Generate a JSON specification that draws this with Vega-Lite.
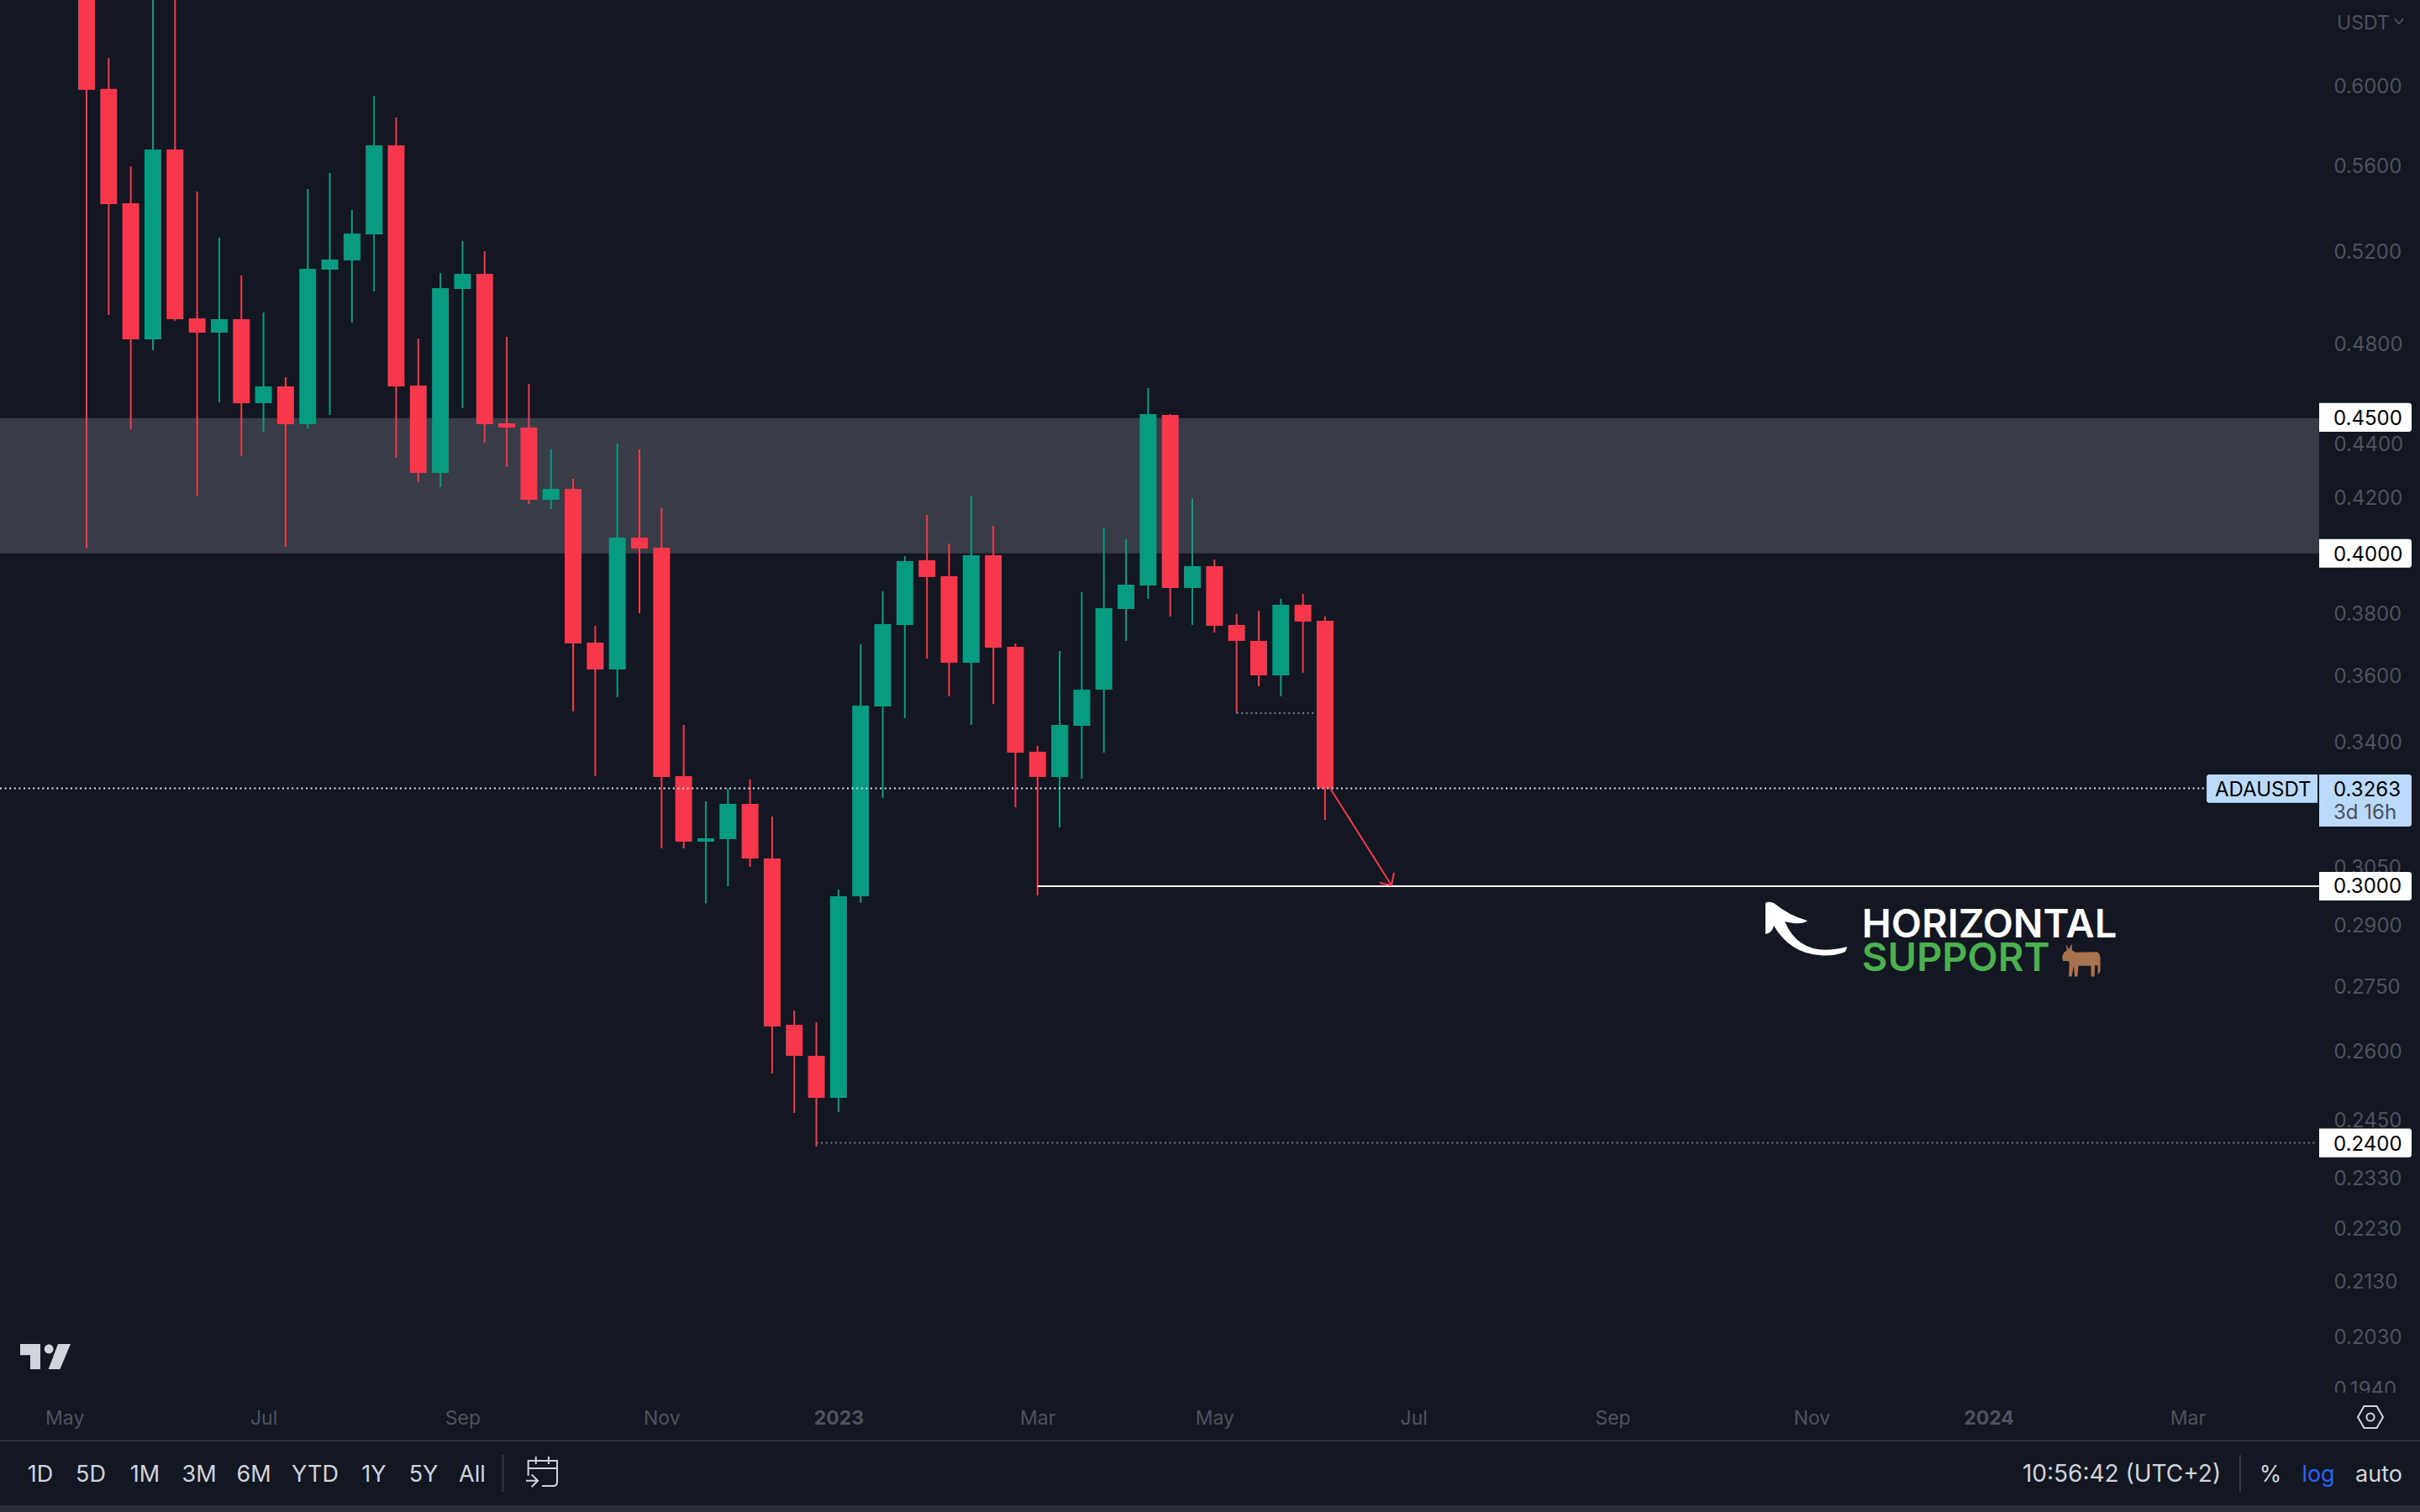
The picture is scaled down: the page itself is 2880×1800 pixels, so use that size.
{
  "$schema": "https://vega.github.io/schema/vega-lite/v6.json",
  "description": "ADAUSDT weekly candles with horizontal support levels",
  "width": 2880,
  "height": 1800,
  "padding": 0,
  "autosize": "none",
  "background": "#131722",
  "config": {"view": {"stroke": null}, "text": {"font": "Inter"}},
  "datasets": {
    "candles": [
      {"at": "2022-05-09", "side": "down", "open": 0.68, "high": 0.72, "low": 0.40176, "close": 0.59764},
      {"at": "2022-05-16", "side": "down", "open": 0.59817, "high": 0.61441, "low": 0.49175, "close": 0.54137},
      {"at": "2022-05-23", "side": "down", "open": 0.54172, "high": 0.55935, "low": 0.44541, "close": 0.48147},
      {"at": "2022-05-30", "side": "up", "open": 0.48147, "high": 0.7, "low": 0.47694, "close": 0.56756},
      {"at": "2022-06-06", "side": "down", "open": 0.56756, "high": 0.72, "low": 0.48925, "close": 0.48996},
      {"at": "2022-06-13", "side": "down", "open": 0.49032, "high": 0.54727, "low": 0.42052, "close": 0.48429},
      {"at": "2022-06-20", "side": "up", "open": 0.48429, "high": 0.5258, "low": 0.4559, "close": 0.48996},
      {"at": "2022-06-27", "side": "down", "open": 0.48996, "high": 0.50886, "low": 0.43516, "close": 0.45558},
      {"at": "2022-07-04", "side": "up", "open": 0.45558, "high": 0.49282, "low": 0.44444, "close": 0.46225},
      {"at": "2022-07-11", "side": "down", "open": 0.46225, "high": 0.46596, "low": 0.40226, "close": 0.44736},
      {"at": "2022-07-18", "side": "up", "open": 0.44736, "high": 0.54847, "low": 0.44574, "close": 0.51183},
      {"at": "2022-07-25", "side": "up", "open": 0.51147, "high": 0.5561, "low": 0.45096, "close": 0.51594},
      {"at": "2022-08-01", "side": "up", "open": 0.51557, "high": 0.53857, "low": 0.48854, "close": 0.52772},
      {"at": "2022-08-08", "side": "up", "open": 0.52733, "high": 0.59461, "low": 0.50186, "close": 0.56963},
      {"at": "2022-08-15", "side": "down", "open": 0.56963, "high": 0.58346, "low": 0.43452, "close": 0.46225},
      {"at": "2022-08-22", "side": "down", "open": 0.4626, "high": 0.48183, "low": 0.42545, "close": 0.42887},
      {"at": "2022-08-29", "side": "up", "open": 0.42887, "high": 0.50997, "low": 0.42359, "close": 0.50333},
      {"at": "2022-09-05", "side": "up", "open": 0.50296, "high": 0.52426, "low": 0.45359, "close": 0.50959},
      {"at": "2022-09-12", "side": "down", "open": 0.50959, "high": 0.51971, "low": 0.44025, "close": 0.44736},
      {"at": "2022-09-19", "side": "down", "open": 0.44768, "high": 0.48253, "low": 0.43105, "close": 0.44606},
      {"at": "2022-09-26", "side": "down", "open": 0.44606, "high": 0.46326, "low": 0.41747, "close": 0.41899},
      {"at": "2022-10-03", "side": "up", "open": 0.41899, "high": 0.43769, "low": 0.41565, "close": 0.42298},
      {"at": "2022-10-10", "side": "down", "open": 0.42298, "high": 0.42669, "low": 0.34879, "close": 0.36996},
      {"at": "2022-10-17", "side": "down", "open": 0.37023, "high": 0.37566, "low": 0.32978, "close": 0.36171},
      {"at": "2022-10-24", "side": "up", "open": 0.36171, "high": 0.43993, "low": 0.35312, "close": 0.40549},
      {"at": "2022-10-31", "side": "down", "open": 0.40549, "high": 0.43769, "low": 0.37979, "close": 0.40167},
      {"at": "2022-11-07", "side": "down", "open": 0.40196, "high": 0.41595, "low": 0.30977, "close": 0.32954},
      {"at": "2022-11-14", "side": "down", "open": 0.32978, "high": 0.34475, "low": 0.30977, "close": 0.31157},
      {"at": "2022-11-21", "side": "up", "open": 0.31157, "high": 0.32265, "low": 0.29535, "close": 0.31249},
      {"at": "2022-11-28", "side": "up", "open": 0.31226, "high": 0.3262, "low": 0.29979, "close": 0.32195},
      {"at": "2022-12-05", "side": "down", "open": 0.32195, "high": 0.32882, "low": 0.30484, "close": 0.30707},
      {"at": "2022-12-12", "side": "down", "open": 0.30707, "high": 0.31845, "low": 0.25488, "close": 0.26547},
      {"at": "2022-12-19", "side": "down", "open": 0.26586, "high": 0.26917, "low": 0.24631, "close": 0.2588},
      {"at": "2022-12-26", "side": "down", "open": 0.2588, "high": 0.26644, "low": 0.23924, "close": 0.24955},
      {"at": "2023-01-02", "side": "up", "open": 0.24955, "high": 0.29892, "low": 0.24649, "close": 0.29718},
      {"at": "2023-01-09", "side": "up", "open": 0.29718, "high": 0.36969, "low": 0.29556, "close": 0.35057},
      {"at": "2023-01-16", "side": "up", "open": 0.35031, "high": 0.38704, "low": 0.3236, "close": 0.37621},
      {"at": "2023-01-23", "side": "up", "open": 0.37593, "high": 0.39905, "low": 0.34677, "close": 0.39732},
      {"at": "2023-01-30", "side": "down", "open": 0.39761, "high": 0.41354, "low": 0.36515, "close": 0.39186},
      {"at": "2023-02-06", "side": "down", "open": 0.39215, "high": 0.40343, "low": 0.35338, "close": 0.36382},
      {"at": "2023-02-13", "side": "up", "open": 0.36382, "high": 0.42052, "low": 0.34475, "close": 0.39935},
      {"at": "2023-02-20", "side": "down", "open": 0.39935, "high": 0.40964, "low": 0.35107, "close": 0.36862},
      {"at": "2023-02-27", "side": "down", "open": 0.36889, "high": 0.36996, "low": 0.32101, "close": 0.33657},
      {"at": "2023-03-06", "side": "down", "open": 0.33682, "high": 0.33854, "low": 0.2974, "close": 0.32954},
      {"at": "2023-03-13", "side": "up", "open": 0.32954, "high": 0.36755, "low": 0.31546, "close": 0.34475},
      {"at": "2023-03-20", "side": "up", "open": 0.3445, "high": 0.38676, "low": 0.32906, "close": 0.35546},
      {"at": "2023-03-27", "side": "up", "open": 0.35546, "high": 0.40905, "low": 0.33657, "close": 0.38145},
      {"at": "2023-04-03", "side": "up", "open": 0.38117, "high": 0.4049, "low": 0.37078, "close": 0.3893},
      {"at": "2023-04-10", "side": "up", "open": 0.38902, "high": 0.46162, "low": 0.38451, "close": 0.4513},
      {"at": "2023-04-17", "side": "down", "open": 0.45096, "high": 0.4513, "low": 0.37869, "close": 0.38817},
      {"at": "2023-04-24", "side": "up", "open": 0.38817, "high": 0.4196, "low": 0.37593, "close": 0.39559},
      {"at": "2023-05-01", "side": "down", "open": 0.39559, "high": 0.3979, "low": 0.37348, "close": 0.37566},
      {"at": "2023-05-08", "side": "down", "open": 0.37593, "high": 0.37951, "low": 0.34828, "close": 0.37078},
      {"at": "2023-05-15", "side": "down", "open": 0.37078, "high": 0.38061, "low": 0.35648, "close": 0.35987},
      {"at": "2023-05-22", "side": "up", "open": 0.35987, "high": 0.38451, "low": 0.35338, "close": 0.38256},
      {"at": "2023-05-29", "side": "down", "open": 0.38256, "high": 0.38619, "low": 0.36066, "close": 0.37703},
      {"at": "2023-06-05", "side": "down", "open": 0.37731, "high": 0.37869, "low": 0.31753, "close": 0.3263}
    ]
  },
  "encoding": {
    "x": {
      "field": "at",
      "type": "temporal",
      "title": null,
      "scale": {"type": "utc", "domain": ["2022-04-11T14:33:00Z", "2024-05-16T13:31:00Z"], "nice": false, "padding": 0},
      "axis": {
        "orient": "bottom",
        "offset": -112,
        "grid": false,
        "ticks": false,
        "domain": false,
        "title": null,
        "labelPadding": 0,
        "labelBaseline": "middle",
        "labelAlign": "center",
        "labelFont": "Inter",
        "labelFontSize": 23,
        "labelColor": "#50535E",
        "labelFontWeight": {"condition": {"test": "utcmonth(datum.value) === 0", "value": 700}, "value": 400},
        "labelOverlap": false,
        "labelFlush": false,
        "labelBound": false,
        "values": ["2022-05-02", "2022-07-04", "2022-09-05", "2022-11-07", "2023-01-02", "2023-03-06", "2023-05-01", "2023-07-03", "2023-09-04", "2023-11-06", "2024-01-01", "2024-03-04"],
        "labelExpr": "utcmonth(datum.value) === 0 ? utcFormat(datum.value, '%Y') : utcFormat(datum.value, '%b')"
      }
    },
    "y": {
      "field": "price",
      "type": "quantitative",
      "title": null,
      "scale": {"type": "log", "domain": [0.17431, 0.64605], "nice": false, "zero": false},
      "axis": {
        "orient": "right",
        "offset": -110,
        "grid": false,
        "ticks": false,
        "domain": false,
        "title": null,
        "labelPadding": 7,
        "labelOffset": 2,
        "labelFont": "Inter",
        "labelFontSize": 24,
        "labelColor": "#50535E",
        "labelOverlap": false,
        "labelFlush": false,
        "labelBound": false,
        "format": ".4f",
        "values": [0.6, 0.56, 0.52, 0.48, 0.44, 0.42, 0.38, 0.36, 0.34, 0.305, 0.29, 0.275, 0.26, 0.245, 0.233, 0.223, 0.213, 0.203, 0.194]
      }
    }
  },
  "layer": [
    {
      "data": {"values": [{"at": "2022-04-11T14:33:00Z", "until": "2024-04-14T15:36:00Z", "price": 0.4497, "price2": 0.4}]},
      "mark": {"type": "rect", "color": "#383C47"},
      "encoding": {"x2": {"field": "until"}, "y2": {"field": "price2"}}
    },
    {
      "data": {"name": "candles"},
      "mark": {"type": "rule", "strokeWidth": 2, "clip": true},
      "encoding": {
        "y": {
          "field": "low",
          "type": "quantitative",
          "title": null,
          "scale": {"type": "log", "domain": [0.17431, 0.64605], "nice": false, "zero": false},
          "axis": {
            "orient": "right",
            "offset": -110,
            "grid": false,
            "ticks": false,
            "domain": false,
            "title": null,
            "labelPadding": 7,
            "labelOffset": 2,
            "labelFont": "Inter",
            "labelFontSize": 24,
            "labelColor": "#50535E",
            "labelOverlap": false,
            "labelFlush": false,
            "labelBound": false,
            "format": ".4f",
            "values": [0.6, 0.56, 0.52, 0.48, 0.44, 0.42, 0.38, 0.36, 0.34, 0.305, 0.29, 0.275, 0.26, 0.245, 0.233, 0.223, 0.213, 0.203, 0.194]
          }
        },
        "y2": {"field": "high"},
        "color": {"field": "side", "type": "nominal", "legend": null, "scale": {"domain": ["up", "down"], "range": ["#089B82", "#F7374B"]}}
      }
    },
    {
      "data": {"name": "candles"},
      "mark": {"type": "bar", "size": 20, "clip": true},
      "encoding": {
        "y": {
          "field": "open",
          "type": "quantitative",
          "title": null,
          "scale": {"type": "log", "domain": [0.17431, 0.64605], "nice": false, "zero": false},
          "axis": {
            "orient": "right",
            "offset": -110,
            "grid": false,
            "ticks": false,
            "domain": false,
            "title": null,
            "labelPadding": 7,
            "labelOffset": 2,
            "labelFont": "Inter",
            "labelFontSize": 24,
            "labelColor": "#50535E",
            "labelOverlap": false,
            "labelFlush": false,
            "labelBound": false,
            "format": ".4f",
            "values": [0.6, 0.56, 0.52, 0.48, 0.44, 0.42, 0.38, 0.36, 0.34, 0.305, 0.29, 0.275, 0.26, 0.245, 0.233, 0.223, 0.213, 0.203, 0.194]
          }
        },
        "y2": {"field": "close"},
        "color": {"field": "side", "type": "nominal", "legend": null, "scale": {"domain": ["up", "down"], "range": ["#089B82", "#F7374B"]}}
      }
    },
    {
      "data": {"values": [{"at": "2022-04-11T14:33:00Z", "until": "2024-03-09T21:00:00Z", "price": 0.3263, "price2": 0.3263}]},
      "mark": {"type": "rule", "color": "#D5E6FA", "strokeWidth": 2, "strokeDash": [2, 3.6]},
      "encoding": {"x2": {"field": "until"}, "y2": {"field": "price2"}}
    },
    {
      "data": {"values": [
        {"at": "2022-12-26", "until": "2024-04-13T20:40:00Z", "price": 0.24, "price2": 0.24},
        {"at": "2023-05-08", "until": "2023-06-01T13:40:00Z", "price": 0.34828, "price2": 0.34828}
      ]},
      "mark": {"type": "rule", "color": "#787B86", "strokeWidth": 2, "strokeDash": [2, 3.6]},
      "encoding": {"x2": {"field": "until"}, "y2": {"field": "price2"}}
    },
    {
      "data": {"values": [{"at": "2023-03-06", "until": "2024-04-14T15:36:00Z", "price": 0.2998, "price2": 0.2998}]},
      "mark": {"type": "rule", "color": "#FFFFFF", "strokeWidth": 2},
      "encoding": {"x2": {"field": "until"}, "y2": {"field": "price2"}}
    },
    {
      "data": {"values": [
        {"at": "2023-06-06T15:00:00Z", "until": "2023-06-26T01:00:00Z", "price": 0.3263, "price2": 0.3},
        {"at": "2023-06-22T07:00:00Z", "until": "2023-06-26T01:00:00Z", "price": 0.30066, "price2": 0.3},
        {"at": "2023-06-26T20:00:00Z", "until": "2023-06-26T01:00:00Z", "price": 0.3033, "price2": 0.3}
      ]},
      "mark": {"type": "rule", "color": "#F7374B", "strokeWidth": 2},
      "encoding": {"x2": {"field": "until"}, "y2": {"field": "price2"}}
    },
    {
      "data": {"values": [
        {"at": "2024-04-14T15:36:00Z", "until": "2024-05-13T21:40:00Z", "price": 0.45561, "price2": 0.44446},
        {"at": "2024-04-14T15:36:00Z", "until": "2024-05-13T21:40:00Z", "price": 0.40498, "price2": 0.39508},
        {"at": "2024-04-14T15:36:00Z", "until": "2024-05-13T21:40:00Z", "price": 0.30353, "price2": 0.29611},
        {"at": "2024-04-14T15:36:00Z", "until": "2024-05-13T21:40:00Z", "price": 0.24299, "price2": 0.23704}
      ]},
      "mark": {"type": "rect", "color": "#FFFFFF", "cornerRadiusTopRight": 3, "cornerRadiusBottomRight": 3},
      "encoding": {"x2": {"field": "until"}, "y2": {"field": "price2"}}
    },
    {
      "data": {"values": [{"at": "2024-04-14T15:36:00Z", "until": "2024-05-13T21:40:00Z", "price": 0.33026, "price2": 0.31569}]},
      "mark": {"type": "rect", "color": "#BBD9FB", "cornerRadiusTopRight": 3, "cornerRadiusBottomRight": 3},
      "encoding": {"x2": {"field": "until"}, "y2": {"field": "price2"}}
    },
    {
      "data": {"values": [{"at": "2024-03-10T00:30:00Z", "until": "2024-04-14T03:00:00Z", "price": 0.33026, "price2": 0.32226}]},
      "mark": {"type": "rect", "color": "#BBD9FB", "cornerRadiusTopLeft": 3, "cornerRadiusBottomLeft": 3},
      "encoding": {"x2": {"field": "until"}, "y2": {"field": "price2"}}
    },
    {
      "data": {"values": [
        {"at": "2024-04-19T04:20:00Z", "price": 0.45, "label": "0.4500"},
        {"at": "2024-04-19T04:20:00Z", "price": 0.4, "label": "0.4000"},
        {"at": "2024-04-19T04:20:00Z", "price": 0.3263, "label": "0.3263"},
        {"at": "2024-04-19T04:20:00Z", "price": 0.3, "label": "0.3000"},
        {"at": "2024-04-19T04:20:00Z", "price": 0.24, "label": "0.2400"},
        {"at": "2024-03-12T16:20:00Z", "price": 0.3263, "label": "ADAUSDT"}
      ]},
      "mark": {"type": "text", "align": "left", "baseline": "middle", "fontSize": 24, "dy": 2, "color": "#000000"},
      "encoding": {"text": {"field": "label"}}
    },
    {
      "data": {"values": [{"at": "2024-04-19T04:20:00Z", "price": 0.31962, "label": "3d 16h"}]},
      "mark": {"type": "text", "align": "left", "baseline": "middle", "fontSize": 24, "dy": 1, "color": "#4A4E5A"},
      "encoding": {"text": {"field": "label"}}
    },
    {
      "data": {"values": [{"at": "2024-04-20T05:45:00Z", "price": 0.63316, "label": "USDT"}]},
      "mark": {"type": "text", "align": "left", "baseline": "middle", "fontSize": 23, "color": "#50535E"},
      "encoding": {"text": {"field": "label"}}
    },
    {
      "data": {"values": [
        {"at": "2024-05-08T14:10:00Z", "until": "2024-05-09T22:00:00Z", "price": 0.63578, "price2": 0.63279},
        {"at": "2024-05-11T06:00:00Z", "until": "2024-05-09T22:00:00Z", "price": 0.63578, "price2": 0.63279}
      ]},
      "mark": {"type": "rule", "color": "#50535E", "strokeWidth": 2},
      "encoding": {"x2": {"field": "until"}, "y2": {"field": "price2"}}
    },
    {
      "data": {"values": [{"at": "2024-03-29T16:50:00Z", "until": "2024-05-16T13:31:00Z", "price": 0.19329, "price2": 0.19133}]},
      "mark": {"type": "rect", "color": "#131722"},
      "encoding": {"x2": {"field": "until"}, "y2": {"field": "price2"}}
    },
    {
      "data": {"values": [{"at": "2022-04-11T14:33:00Z", "until": "2024-05-16T13:31:00Z", "price": 0.18543, "price2": 0.18543}]},
      "mark": {"type": "rule", "color": "#2A2E39", "strokeWidth": 2},
      "encoding": {"x2": {"field": "until"}, "y2": {"field": "price2"}}
    },
    {
      "data": {"values": [{"at": "2022-04-11T14:33:00Z", "until": "2024-05-16T13:31:00Z", "price": 0.17533, "price2": 0.17431}]},
      "mark": {"type": "rect", "color": "#2A2E39"},
      "encoding": {"x2": {"field": "until"}, "y2": {"field": "price2"}}
    },
    {
      "data": {"values": [
        {"at": "2022-09-17T18:40:00Z", "until": "2022-09-17T18:40:00Z", "price": 0.18315, "price2": 0.17738},
        {"at": "2024-03-20T15:36:00Z", "until": "2024-03-20T15:36:00Z", "price": 0.18315, "price2": 0.17738}
      ]},
      "mark": {"type": "rule", "color": "#363A45", "strokeWidth": 2},
      "encoding": {"x2": {"field": "until"}, "y2": {"field": "price2"}}
    },
    {
      "data": {"values": [
        {"at": "2022-04-24T09:00:00Z", "price": 0.18011, "label": "1D"},
        {"at": "2022-05-10T08:00:00Z", "price": 0.18011, "label": "5D"},
        {"at": "2022-05-27T11:30:00Z", "price": 0.18011, "label": "1M"},
        {"at": "2022-06-13T15:20:00Z", "price": 0.18011, "label": "3M"},
        {"at": "2022-06-30T22:20:00Z", "price": 0.18011, "label": "6M"},
        {"at": "2022-07-20T08:10:00Z", "price": 0.18011, "label": "YTD"},
        {"at": "2022-08-07T23:00:00Z", "price": 0.18011, "label": "1Y"},
        {"at": "2022-08-23T15:36:00Z", "price": 0.18011, "label": "5Y"},
        {"at": "2022-09-08T01:40:00Z", "price": 0.18011, "label": "All"},
        {"at": "2024-03-30T05:30:00Z", "price": 0.18011, "label": "%"},
        {"at": "2024-05-03T13:00:00Z", "price": 0.18011, "label": "auto"}
      ]},
      "mark": {"type": "text", "align": "center", "baseline": "middle", "fontSize": 27, "dy": 1, "color": "#D1D4DC"},
      "encoding": {"text": {"field": "label"}}
    },
    {
      "data": {"values": [{"at": "2024-02-12T03:40:00Z", "price": 0.18011, "label": "10:56:42 (UTC+2)"}]},
      "mark": {"type": "text", "align": "center", "baseline": "middle", "fontSize": 28, "dy": 1, "color": "#D1D4DC"},
      "encoding": {"text": {"field": "label"}}
    },
    {
      "data": {"values": [{"at": "2024-04-14T09:20:00Z", "price": 0.18011, "label": "log"}]},
      "mark": {"type": "text", "align": "center", "baseline": "middle", "fontSize": 27, "dy": 1, "color": "#2962FF"},
      "encoding": {"text": {"field": "label"}}
    },
    {
      "data": {"values": [{"at": "2023-11-21T22:00:00Z", "price": 0.29034, "label": "HORIZONTAL"}]},
      "mark": {"type": "text", "align": "left", "baseline": "middle", "fontSize": 47, "fontWeight": 600, "dy": 3, "color": "#FFFFFF"},
      "encoding": {"text": {"field": "label"}}
    },
    {
      "data": {"values": [{"at": "2023-11-21T22:00:00Z", "price": 0.2818, "label": "SUPPORT"}]},
      "mark": {"type": "text", "align": "left", "baseline": "middle", "fontSize": 47, "fontWeight": 600, "dy": 2, "color": "#4CAF50"},
      "encoding": {"text": {"field": "label"}}
    },
    {
      "data": {"values": [{"at": "2024-01-30T09:20:00Z", "price": 0.28119}]},
      "mark": {"type": "point", "filled": true, "opacity": 1, "color": "#A8734E", "size": 2116, "shape": "M-1 -0.15L-0.9 -0.4L-0.75 -0.5L-0.8 -0.85L-0.65 -0.55L-0.5 -0.85L-0.48 -0.5L-0.3 -0.4L0.8 -0.42Q1 -0.35 0.98 0L0.98 0.6L0.85 0.75L0.85 0.3L0.7 0.25L0.68 0.85L0.5 0.85L0.5 0.3L-0.15 0.3L-0.2 0.85L-0.35 0.85L-0.4 0.3L-0.5 0.85L-0.65 0.85L-0.62 0.1L-0.7 0.05L-0.95 0.05Z"}
    },
    {
      "data": {"values": [{"at": "2023-11-04T03:40:00Z", "price": 0.28907}]},
      "mark": {"type": "point", "filled": true, "opacity": 1, "color": "#FFFFFF", "size": 10000, "shape": "M-0.96 -0.58Q-0.95 -0.66 -0.76 -0.6Q-0.4 -0.3 0.04 -0.18Q-0.1 -0.06 -0.5 -0.16Q-0.12 0.74 0.98 0.44Q0.96 0.56 0.9 0.58Q0.6 0.68 0.32 0.64Q-0.38 0.59 -0.76 -0.06Q-0.8 0.12 -0.96 0.14Z"}
    },
    {
      "data": {"values": [{"at": "2022-04-25T23:15:00Z", "price": 0.19943}]},
      "mark": {"type": "point", "filled": true, "opacity": 1, "color": "#D1D4DC", "size": 3600, "shape": "M-1 -0.5H-0.2V0.5H-0.6V-0.06H-1ZM0.5 -0.5H1L0.58 0.5H0.12ZM-0.04 -0.3A0.18 0.18 0 1 0 0.32 -0.3A0.18 0.18 0 1 0 -0.04 -0.3Z"}
    },
    {
      "data": {"values": [{"at": "2022-09-30T03:30:00Z", "price": 0.18044}]},
      "mark": {"type": "point", "filled": false, "opacity": 1, "color": "#D1D4DC", "strokeWidth": 2, "size": 1444, "shape": "M-0.86 0.22V-0.71H0.95V0.6Q0.95 0.87 0.7 0.87H0M-0.86 -0.24H0.95M-0.38 -0.97V-0.5M0.42 -0.97V-0.5M-1 0.54H-0.26M-0.65 0.15L-0.26 0.54L-0.65 0.93"}
    },
    {
      "data": {"values": [{"at": "2024-04-30T21:00:00Z", "price": 0.18925}]},
      "mark": {"type": "point", "filled": false, "opacity": 1, "color": "#D1D4DC", "strokeWidth": 2, "size": 900, "shape": "M-1 0L-0.5 -0.87H0.5L1 0L0.5 0.87H-0.5Z"}
    },
    {
      "data": {"values": [{"at": "2024-04-30T21:00:00Z", "price": 0.18925}]},
      "mark": {"type": "point", "filled": false, "opacity": 1, "color": "#D1D4DC", "strokeWidth": 2, "size": 85, "shape": "circle"}
    }
  ]
}
